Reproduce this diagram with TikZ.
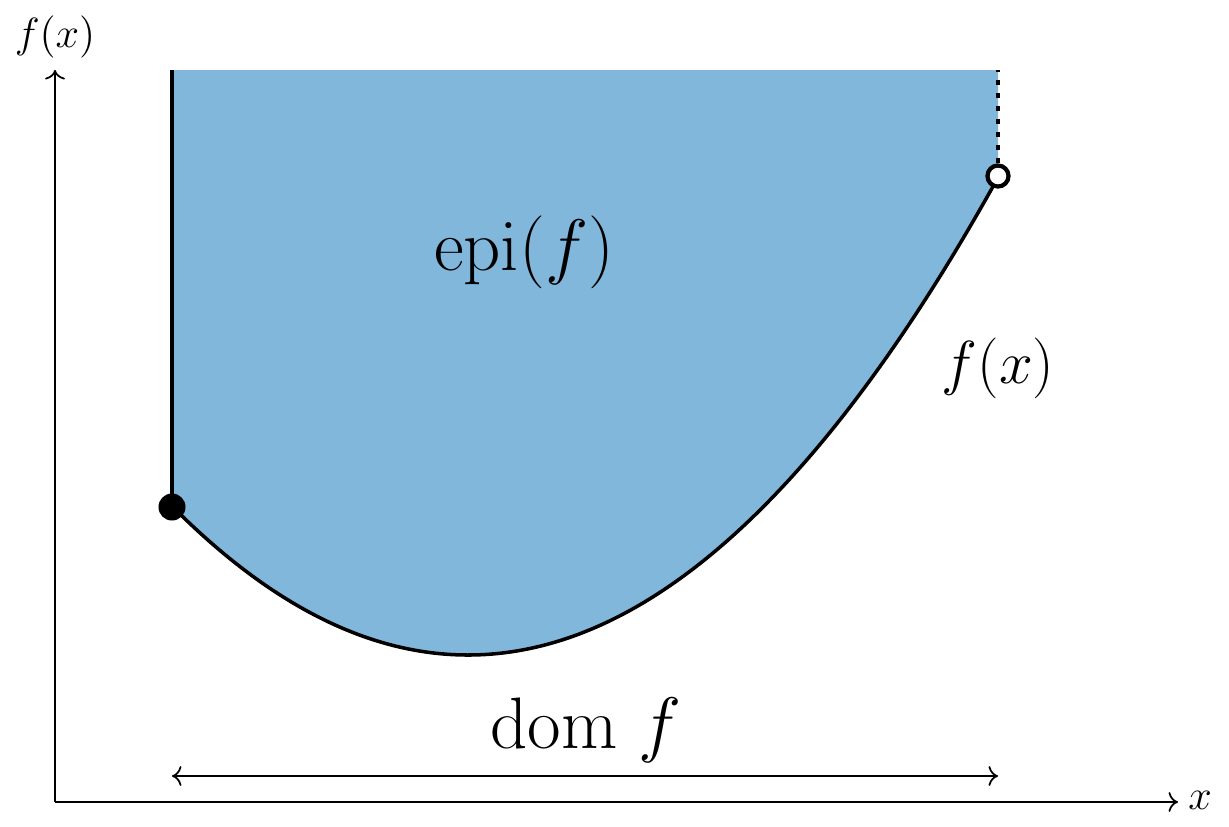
\documentclass[tikz,border=0pt]{standalone}
\usetikzlibrary{arrows.meta}
\definecolor{epiblue}{RGB}{128,183,219}
\begin{document}
\begin{tikzpicture}[x=0.01cm,y=-0.01cm,
  axis/.style={->,line width=0.5pt},
  curveline/.style={line width=1pt,black},
  fulldot/.style={circle,fill=black,inner sep=0pt,minimum size=0.27cm},
  opendot/.style={circle,draw=black,fill=white,line width=1.2pt,inner sep=0pt,minimum size=0.21cm},
  bigtext/.style={font=\fontsize{19.2}{23}\selectfont},
  midtext/.style={font=\fontsize{17}{20}\selectfont},
  smalltext/.style={font=\fontsize{12}{14}\selectfont}]
\useasboundingbox (0,0) rectangle (1229,826);
\coordinate (O) at (55,802);
\coordinate (ytop) at (55,70);
\coordinate (xend) at (1178,802);
\coordinate (tl) at (172,70);
\coordinate (tr) at (998,70);
\coordinate (dl) at (172,776);
\coordinate (dr) at (998,776);
% fill
\fill[epiblue] (tl) -- (172,507) -- plot[domain=172:998,samples=120,smooth] (\x,{655-(0.041231*(\x-468))^2}) -- (tr) -- cycle;
% boundary
\draw[curveline] (tl) -- (172,507);
\draw[curveline] plot[domain=172:998,samples=120,smooth] (\x,{655-(0.041231*(\x-468))^2});
\draw[line width=1.4pt,dash pattern=on 1.4pt off 2.3pt] (998,176) -- (tr);
\node[fulldot] (a) at (172,507) {};
\node[opendot] (b) at (998,176) {};
% axes
\draw[axis] (O) -- (ytop);
\draw[axis] (O) -- (xend);
\node[smalltext] (ylab) at (55,37) {$f(x)$};
\node[smalltext] (xlab) at (1200,800) {$x$};
% domain arrow
\draw[<->,line width=0.5pt] (dl) -- (dr);
\node[bigtext] (dom) at (586,730) {$\mathrm{dom}\ f$};
\node[bigtext] (epi) at (524,252) {$\mathrm{epi}(f)$};
\node[midtext] (fx) at (998,368) {$f(x)$};
\end{tikzpicture}
\end{document}
